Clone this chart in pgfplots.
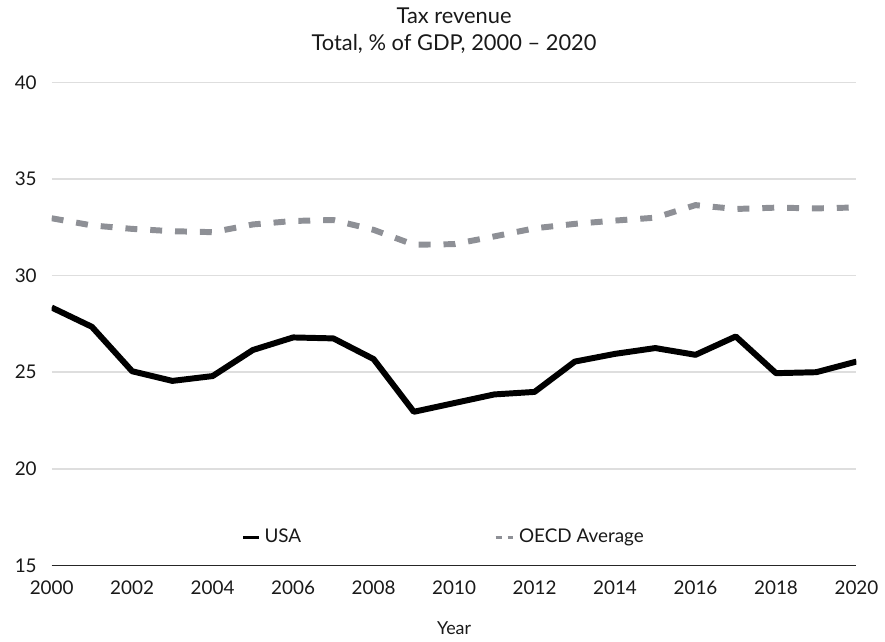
\documentclass[border=0pt]{standalone}
\usepackage{fontspec}
\setmainfont{Lato}
\usepackage{pgfplots}
\pgfplotsset{compat=1.18}
\definecolor{oecdgray}{RGB}{142,144,150}
\definecolor{gridgray}{RGB}{222,222,222}

\begin{document}
\begin{tikzpicture}
\begin{axis}[
  scale only axis,
  width=405pt,height=243pt,
  xmin=2000,xmax=2020,ymin=15,ymax=40,
  xtick={2000,2002,...,2020},
  ytick={15,20,...,40},
  major tick length=0pt,
  /pgf/number format/1000 sep={},
  /pgf/number format/assume math mode=true,
  axis x line*=bottom,
  axis y line*=left,
  y axis line style={draw=none},
  x axis line style={draw=black!85,line width=0.8pt,-},
  ymajorgrids,
  grid style={gridgray,line width=0.8pt},
  ticklabel style={font=\fontsize{9.5}{11}\selectfont,text=black!90},
  yticklabel style={xshift=-4pt},
  xticklabel style={yshift=-4pt},
  xlabel={Year},
  xlabel style={font=\fontsize{9}{10}\selectfont,text=black!90,yshift=-7pt},
  title={Tax revenue\\Total, \% of GDP, 2000 -- 2020},
  title style={align=center,font=\fontsize{11}{13.5}\selectfont,text=black!90,
    at={(rel axis cs:0.5,1)},anchor=south,yshift=5pt},
  legend columns=2,
  legend style={draw=none,fill=none,at={(rel axis cs:0.228,0.058)},anchor=west,
    font=\fontsize{9.5}{11}\selectfont,text=black!90,
    /tikz/every even column/.append style={column sep=95pt}},
  legend cell align=left,
]
\coordinate (bl) at (rel axis cs:0,0);
\coordinate (tr) at (rel axis cs:1,1);
\addplot[black,line width=3pt,line join=round,
  legend image code/.code={\draw[black,line width=1.6pt] (0pt,0pt) -- (8pt,0pt);}]
  coordinates {
  (2000,28.35)(2001,27.35)(2002,25.05)(2003,24.55)(2004,24.8)
  (2005,26.15)(2006,26.8)(2007,26.75)(2008,25.68)(2009,22.95)
  (2010,23.4)(2011,23.85)(2012,23.98)(2013,25.55)(2014,25.95)
  (2015,26.25)(2016,25.9)(2017,26.85)(2018,24.95)(2019,25.0)(2020,25.55)};
\addlegendentry{USA}
\addplot[oecdgray,line width=3pt,dash pattern=on 6pt off 6.5pt,
  legend image code/.code={\draw[oecdgray,line width=1.6pt,dash pattern=on 3pt off 3pt] (0pt,0pt) -- (9pt,0pt);}]
  coordinates {
  (2000,32.97)(2001,32.6)(2002,32.42)(2003,32.3)(2004,32.25)
  (2005,32.65)(2006,32.83)(2007,32.88)(2008,32.37)(2009,31.6)
  (2010,31.63)(2011,32.03)(2012,32.45)(2013,32.68)(2014,32.85)
  (2015,33.0)(2016,33.65)(2017,33.45)(2018,33.52)(2019,33.48)(2020,33.53)};
\addlegendentry{OECD Average}
\end{axis}
\path (bl) ++(-26pt,-34.5pt) coordinate (pbl);
\path (tr) ++(11.5pt,41.5pt) coordinate (ptr);
\path (pbl) rectangle (ptr);
\end{tikzpicture}
\end{document}
